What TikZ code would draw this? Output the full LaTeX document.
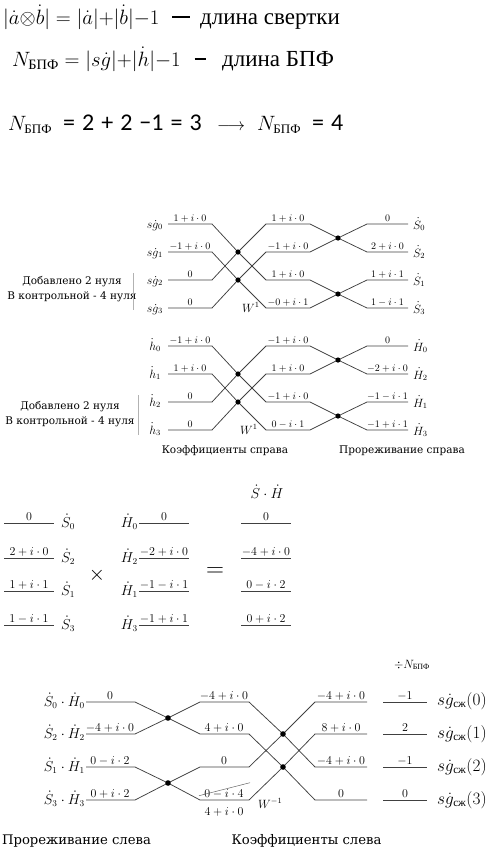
\documentclass[tikz,border=0pt]{standalone}
\usepackage{fontspec}
\usepackage{amsmath}
\setmainfont{Liberation Serif}
\newfontfamily\notefont{DejaVu Serif}
\newfontfamily\digitfont{Carlito}

\tikzset{
  wire/.style={draw=black!75, line width=0.75pt},
  joint/.style={fill=black},
  val/.style={anchor=base, inner sep=0pt, font=\fontsize{10}{12}\selectfont},
  bigval/.style={anchor=base, inner sep=0pt, font=\fontsize{12.5}{14}\selectfont},
  lbl/.style={inner sep=0pt, font=\fontsize{11.5}{13}\selectfont},
  biglbl/.style={inner sep=0pt, font=\fontsize{13.5}{15}\selectfont},
  note/.style={inner sep=0pt, align=center, font=\notefont\fontsize{10.5}{15}\selectfont},
  bignote/.style={inner sep=0pt, anchor=base, font=\notefont\fontsize{13.2}{15}\selectfont},
  formula/.style={anchor=base west, inner sep=0pt, font=\fontsize{20.5}{24}\selectfont},
  words/.style={anchor=base west, inner sep=0pt, font=\fontsize{23}{26}\selectfont}
}

\begin{document}
\begin{tikzpicture}[x=1pt, y=-1pt]
  \useasboundingbox (0,0) rectangle (495,849);

  % Formulas
  \node[formula] (conv) at (3,24) {$|\dot a{\otimes}\dot b| = |\dot a|{+}|\dot b|{-}1$};
  \node[inner sep=0pt] (convdash) at (181,17) {\rule{18pt}{2.2pt}};
  \node[words] (convtext) at (200,24) {длина свертки};
  \node[formula] (nfft) at (12,66) {$N_{\text{БПФ}} = |s\dot g|{+}|\dot h|{-}1$};
  \node[inner sep=0pt] (nfftdash) at (200,59) {\rule{11pt}{1.8pt}};
  \node[words] (nffttext) at (222,66) {длина БПФ};
  \node[formula, font=\fontsize{22}{26}\selectfont] (ncalc) at (8,130)
    {$N_{\text{\fontsize{13}{14}\selectfont БПФ}}$};
  \node[anchor=base west, inner sep=0pt, font=\digitfont\fontsize{24}{26}\selectfont] (nsum) at (63,130)
    {=\hskip7pt 2\hskip7pt +\hskip7pt 2\hskip7pt −1\hskip7pt =\hskip7pt 3};
  \node[anchor=base west, inner sep=0pt, font=\fontsize{19}{22}\selectfont] (narrow) at (217,130)
    {$\longrightarrow$};
  \node[formula, font=\fontsize{22}{26}\selectfont] (nnew) at (257,130)
    {$N_{\text{\fontsize{13}{14}\selectfont БПФ}}$};
  \node[anchor=base west, inner sep=0pt, font=\digitfont\fontsize{24}{26}\selectfont] (nfour) at (312,130)
    {=\hskip7pt 4};

  % Coordinates (sg and h)
  \foreach \r/\y/\z in {0/224/346, 1/252/374, 2/280/402, 3/308/430}{
    \coordinate (gA\r) at (168,\y);
    \coordinate (gB\r) at (212,\y);
    \coordinate (gC\r) at (266,\y);
    \coordinate (gD\r) at (310,\y);
    \coordinate (gE\r) at (367,\y);
    \coordinate (gF\r) at (408,\y);
    \coordinate (hA\r) at (168,\z);
    \coordinate (hB\r) at (212,\z);
    \coordinate (hC\r) at (266,\z);
    \coordinate (hD\r) at (310,\z);
    \coordinate (hE\r) at (367,\z);
    \coordinate (hF\r) at (408,\z);
  }
  \coordinate (gX1) at (238,252);
  \coordinate (gX2) at (238,280);
  \coordinate (gY1) at (338,238);
  \coordinate (gY2) at (338,294);
  \coordinate (hX1) at (238,374);
  \coordinate (hX2) at (238,402);
  \coordinate (hY1) at (338,360);
  \coordinate (hY2) at (338,416);

  % Drawing (sg)
  \draw[wire] (gA0) -- (gB0) -- (gX1) -- (gC2) -- (gD2) -- (gY2) -- (gE3) -- (gF3);
  \draw[wire] (gA2) -- (gB2) -- (gX1) -- (gC0) -- (gD0) -- (gY1) -- (gE1) -- (gF1);
  \draw[wire] (gA1) -- (gB1) -- (gX2) -- (gC3) -- (gD3) -- (gY2) -- (gE2) -- (gF2);
  \draw[wire] (gA3) -- (gB3) -- (gX2) -- (gC1) -- (gD1) -- (gY1) -- (gE0) -- (gF0);
  \fill[joint] (gX1) circle (2.6);
  \fill[joint] (gX2) circle (2.6);
  \fill[joint] (gY1) circle (2.6);
  \fill[joint] (gY2) circle (2.6);

  \node[lbl, anchor=base east] (gin0) at (163,228) {$s\dot g_0$};
  \node[lbl, anchor=base east] (gin1) at (163,256) {$s\dot g_1$};
  \node[lbl, anchor=base east] (gin2) at (163,284) {$s\dot g_2$};
  \node[lbl, anchor=base east] (gin3) at (163,312) {$s\dot g_3$};
  \node[val] (ga0) at (190,221.5) {$1+i\cdot 0$};
  \node[val] (ga1) at (190,249.5) {$-1+i\cdot 0$};
  \node[val] (ga2) at (190,277.5) {$0$};
  \node[val] (ga3) at (190,305.5) {$0$};
  \node[val] (gc0) at (288,221.5) {$1+i\cdot 0$};
  \node[val] (gc1) at (288,249.5) {$-1+i\cdot 0$};
  \node[val] (gc2) at (288,277.5) {$1+i\cdot 0$};
  \node[val] (gc3) at (288,305.5) {$-0+i\cdot 1$};
  \node[val] (ge0) at (387.5,221.5) {$0$};
  \node[val] (ge1) at (387.5,249.5) {$2+i\cdot 0$};
  \node[val] (ge2) at (387.5,277.5) {$1+i\cdot 1$};
  \node[val] (ge3) at (387.5,305.5) {$1-i\cdot 1$};
  \node[lbl, anchor=base west] (gout0) at (413,229) {$\dot S_0$};
  \node[lbl, anchor=base west] (gout1) at (413,257) {$\dot S_2$};
  \node[lbl, anchor=base west] (gout2) at (413,285) {$\dot S_1$};
  \node[lbl, anchor=base west] (gout3) at (413,313) {$\dot S_3$};
  \node[lbl, anchor=base west] (gw) at (242,312) {$W^1$};
  \node[note] (gzero) at (72,289) {Добавлено 2 нуля\\В контрольной - 4 нуля};
  \draw[black!30, line width=0.5pt] (133,273) -- (133,310);

  % Drawing (h)
  \draw[wire] (hA0) -- (hB0) -- (hX1) -- (hC2) -- (hD2) -- (hY2) -- (hE3) -- (hF3);
  \draw[wire] (hA2) -- (hB2) -- (hX1) -- (hC0) -- (hD0) -- (hY1) -- (hE1) -- (hF1);
  \draw[wire] (hA1) -- (hB1) -- (hX2) -- (hC3) -- (hD3) -- (hY2) -- (hE2) -- (hF2);
  \draw[wire] (hA3) -- (hB3) -- (hX2) -- (hC1) -- (hD1) -- (hY1) -- (hE0) -- (hF0);
  \fill[joint] (hX1) circle (2.6);
  \fill[joint] (hX2) circle (2.6);
  \fill[joint] (hY1) circle (2.6);
  \fill[joint] (hY2) circle (2.6);

  \node[lbl, anchor=base east] (hin0) at (161,350) {$\dot h_0$};
  \node[lbl, anchor=base east] (hin1) at (161,378) {$\dot h_1$};
  \node[lbl, anchor=base east] (hin2) at (161,406) {$\dot h_2$};
  \node[lbl, anchor=base east] (hin3) at (161,434) {$\dot h_3$};
  \node[val] (ha0) at (190,343.5) {$-1+i\cdot 0$};
  \node[val] (ha1) at (190,371.5) {$1+i\cdot 0$};
  \node[val] (ha2) at (190,399.5) {$0$};
  \node[val] (ha3) at (190,427.5) {$0$};
  \node[val] (hc0) at (288,343.5) {$-1+i\cdot 0$};
  \node[val] (hc1) at (288,371.5) {$1+i\cdot 0$};
  \node[val] (hc2) at (288,399.5) {$-1+i\cdot 0$};
  \node[val] (hc3) at (288,427.5) {$0-i\cdot 1$};
  \node[val] (he0) at (387.5,343.5) {$0$};
  \node[val] (he1) at (387.5,371.5) {$-2+i\cdot 0$};
  \node[val] (he2) at (387.5,399.5) {$-1-i\cdot 1$};
  \node[val] (he3) at (387.5,427.5) {$-1+i\cdot 1$};
  \node[lbl, anchor=base west] (hout0) at (413,351) {$\dot H_0$};
  \node[lbl, anchor=base west] (hout1) at (413,379) {$\dot H_2$};
  \node[lbl, anchor=base west] (hout2) at (413,407) {$\dot H_1$};
  \node[lbl, anchor=base west] (hout3) at (413,435) {$\dot H_3$};
  \node[lbl, anchor=base west] (hw) at (240,434) {$W^1$};
  \node[note] (hzero) at (70,414) {Добавлено 2 нуля\\В контрольной - 4 нуля};
  \draw[black!30, line width=0.5pt] (138,395) -- (138,435);
  \node[note, anchor=base] (hcoef) at (225,453) {Коэффициенты справа};
  \node[note, anchor=base] (hthin) at (402,453) {Прореживание справа};

  % Product
  \foreach \r/\y in {0/523, 1/558, 2/591, 3/625}{
    \coordinate (sL\r) at (4,\y);
    \coordinate (sR\r) at (54,\y);
    \coordinate (hL\r) at (139,\y);
    \coordinate (hR\r) at (189,\y);
    \coordinate (pL\r) at (241,\y);
    \coordinate (pR\r) at (291,\y);
    \draw[wire] (sL\r) -- (sR\r);
    \draw[wire] (hL\r) -- (hR\r);
    \draw[wire] (pL\r) -- (pR\r);
  }
  \node[bigval] (sv0) at (29,520.5) {$0$};
  \node[bigval] (sv1) at (29,555.5) {$2+i\cdot 0$};
  \node[bigval] (sv2) at (29,588.5) {$1+i\cdot 1$};
  \node[bigval] (sv3) at (29,622.5) {$1-i\cdot 1$};
  \node[biglbl, anchor=base west] (sn0) at (61,527) {$\dot S_0$};
  \node[biglbl, anchor=base west] (sn1) at (61,562) {$\dot S_2$};
  \node[biglbl, anchor=base west] (sn2) at (61,595) {$\dot S_1$};
  \node[biglbl, anchor=base west] (sn3) at (61,629) {$\dot S_3$};
  \node[inner sep=0pt, font=\fontsize{22}{24}\selectfont] (times) at (97,575) {$\times$};
  \node[biglbl, anchor=base east] (hn0) at (138,527) {$\dot H_0$};
  \node[biglbl, anchor=base east] (hn1) at (138,562) {$\dot H_2$};
  \node[biglbl, anchor=base east] (hn2) at (138,595) {$\dot H_1$};
  \node[biglbl, anchor=base east] (hn3) at (138,629) {$\dot H_3$};
  \node[bigval] (hv0) at (164,520.5) {$0$};
  \node[bigval] (hv1) at (164,555.5) {$-2+i\cdot 0$};
  \node[bigval] (hv2) at (164,588.5) {$-1-i\cdot 1$};
  \node[bigval] (hv3) at (164,622.5) {$-1+i\cdot 1$};
  \node[inner sep=0pt, font=\fontsize{24}{26}\selectfont] (equals) at (215,572) {$=$};
  \node[biglbl, anchor=base] (phead) at (267,498) {$\dot S\cdot\dot H$};
  \node[bigval] (pv0) at (266,520.5) {$0$};
  \node[bigval] (pv1) at (266,555.5) {$-4+i\cdot 0$};
  \node[bigval] (pv2) at (266,588.5) {$0-i\cdot 2$};
  \node[bigval] (pv3) at (266,622.5) {$0+i\cdot 2$};

  % Coordinates (inverse)
  \foreach \r/\y in {0/702, 1/734, 2/767, 3/800}{
    \coordinate (iA\r) at (86,\y);
    \coordinate (iB\r) at (135,\y);
    \coordinate (iC\r) at (200,\y);
    \coordinate (iD\r) at (249,\y);
    \coordinate (iE\r) at (315,\y);
    \coordinate (iF\r) at (367,\y);
    \coordinate (iG\r) at (383,\y);
    \coordinate (iH\r) at (427,\y);
    \draw[wire] (iG\r) -- (iH\r);
  }
  \coordinate (iX1) at (168,718);
  \coordinate (iX2) at (168,783);
  \coordinate (iY1) at (283,734);
  \coordinate (iY2) at (283,767);

  % Drawing (inverse)
  \draw[wire] (iA0) -- (iB0) -- (iX1) -- (iC1) -- (iD1) -- (iY2) -- (iE3) -- (iF3);
  \draw[wire] (iA1) -- (iB1) -- (iX1) -- (iC0) -- (iD0) -- (iY1) -- (iE2) -- (iF2);
  \draw[wire] (iA2) -- (iB2) -- (iX2) -- (iC3) -- (iD3) -- (iY2) -- (iE1) -- (iF1);
  \draw[wire] (iA3) -- (iB3) -- (iX2) -- (iC2) -- (iD2) -- (iY1) -- (iE0) -- (iF0);
  \fill[joint] (iX1) circle (2.8);
  \fill[joint] (iX2) circle (2.8);
  \fill[joint] (iY1) circle (2.8);
  \fill[joint] (iY2) circle (2.8);

  \node[biglbl, anchor=base east] (iin0) at (85,706) {$\dot S_0\cdot\dot H_0$};
  \node[biglbl, anchor=base east] (iin1) at (85,738) {$\dot S_2\cdot\dot H_2$};
  \node[biglbl, anchor=base east] (iin2) at (85,771) {$\dot S_1\cdot\dot H_1$};
  \node[biglbl, anchor=base east] (iin3) at (85,804) {$\dot S_3\cdot\dot H_3$};
  \node[bigval] (ia0) at (110,699.5) {$0$};
  \node[bigval] (ia1) at (110,731.5) {$-4+i\cdot 0$};
  \node[bigval] (ia2) at (110,764.5) {$0-i\cdot 2$};
  \node[bigval] (ia3) at (110,797.5) {$0+i\cdot 2$};
  \node[bigval] (ic0) at (224,699.5) {$-4+i\cdot 0$};
  \node[bigval] (ic1) at (224,731.5) {$4+i\cdot 0$};
  \node[bigval] (ic2) at (224,764.5) {$0$};
  \node[bigval] (ic3) at (224,797.5) {$0-i\cdot 4$};
  \node[bigval] (ic4) at (224,815) {$4+i\cdot 0$};
  \draw[black!60, line width=0.5pt] (199,795.7) -- (250,782.7);
  \node[bigval] (ie0) at (341,699.5) {$-4+i\cdot 0$};
  \node[bigval] (ie1) at (341,731.5) {$8+i\cdot 0$};
  \node[bigval] (ie2) at (341,764.5) {$-4+i\cdot 0$};
  \node[bigval] (ie3) at (341,797.5) {$0$};
  \node[val, font=\fontsize{12}{14}\selectfont] (idiv) at (412,668)
    {$\div N_{\text{\fontsize{8}{9}\selectfont БПФ}}$};
  \node[bigval] (ig0) at (405,699.5) {$-1$};
  \node[bigval] (ig1) at (405,731.5) {$2$};
  \node[bigval] (ig2) at (405,764.5) {$-1$};
  \node[bigval] (ig3) at (405,797.5) {$0$};
  \node[biglbl, anchor=base west, font=\fontsize{16}{18}\selectfont] (iout0) at (437,705)
    {$s\dot g_{\text{сж}}(0)$};
  \node[biglbl, anchor=base west, font=\fontsize{16}{18}\selectfont] (iout1) at (437,738)
    {$s\dot g_{\text{сж}}(1)$};
  \node[biglbl, anchor=base west, font=\fontsize{16}{18}\selectfont] (iout2) at (437,771)
    {$s\dot g_{\text{сж}}(2)$};
  \node[biglbl, anchor=base west, font=\fontsize{16}{18}\selectfont] (iout3) at (437,804)
    {$s\dot g_{\text{сж}}(3)$};
  \node[lbl, anchor=base west, font=\fontsize{12}{14}\selectfont] (iw) at (258,808) {$W^{-1}$};
  \node[bignote] (ithin) at (76.5,844) {Прореживание слева};
  \node[bignote] (icoef) at (306.5,844) {Коэффициенты слева};
\end{tikzpicture}
\end{document}
